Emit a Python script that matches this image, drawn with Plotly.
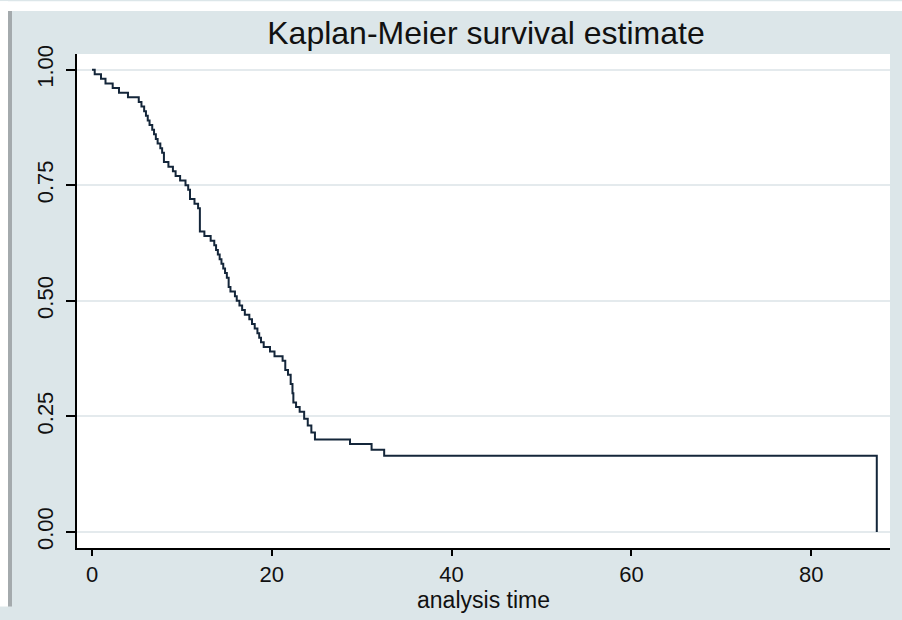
import plotly.graph_objects as go

# Kaplan-Meier step points (time, survival after step)
times = [0, 0.3, 1.0, 1.5, 2.3, 3.0, 4.0, 5.2, 5.5, 5.8, 6.0, 6.2, 6.4, 6.7, 6.9,
         7.1, 7.3, 7.6, 7.8, 8.0, 8.5, 9.0, 9.3, 9.8, 10.4, 10.7, 10.9, 11.4, 11.8,
         12.0, 12.5, 13.2, 13.6, 13.8, 14.0, 14.2, 14.4, 14.6, 14.8, 15.0, 15.2,
         15.4, 15.9, 16.1, 16.4, 16.7, 17.0, 17.5, 17.8, 18.1, 18.4, 18.6, 18.8,
         19.1, 19.8, 20.3, 21.2, 21.5, 21.8, 22.1, 22.3, 22.4, 22.7, 23.1, 23.6,
         24.0, 24.4, 24.8, 28.7, 31.1, 32.5, 87.3]
survival = [1.0, 0.99, 0.98, 0.97, 0.96, 0.95, 0.94, 0.93, 0.92, 0.91, 0.90, 0.89,
            0.88, 0.87, 0.86, 0.85, 0.84, 0.83, 0.82, 0.80, 0.79, 0.78, 0.77, 0.76,
            0.75, 0.74, 0.72, 0.71, 0.70, 0.65, 0.64, 0.63, 0.62, 0.61, 0.60, 0.59,
            0.58, 0.57, 0.56, 0.55, 0.53, 0.52, 0.51, 0.50, 0.49, 0.48, 0.47, 0.46,
            0.45, 0.44, 0.43, 0.42, 0.41, 0.40, 0.39, 0.38, 0.37, 0.35, 0.34, 0.32,
            0.30, 0.28, 0.27, 0.26, 0.245, 0.23, 0.215, 0.20, 0.19, 0.178, 0.165, 0.0]

x_ticks = [0, 20, 40, 60, 80]
y_ticks = [0, 0.25, 0.5, 0.75, 1.0]
y_tick_labels = ["0.00", "0.25", "0.50", "0.75", "1.00"]

title_text = "Kaplan-Meier survival estimate"
x_title = "analysis time"

BG = "#dce6e9"
FONT = "Liberation Sans, Arial, sans-serif"

fig = go.Figure()
fig.add_trace(go.Scatter(
    x=times, y=survival, mode="lines", line=dict(shape="hv", color="#14263a", width=2),
    hoverinfo="skip", showlegend=False))

W, H = 902, 620
L, R, T, B = 77, 12, 54, 60
pw, ph = W - L - R, H - T - B

def px_x(px):
    return (px - L) / pw

def px_y(py):
    return (H - B - py) / ph

shapes = [
    # white strip at the top
    dict(type="rect", xref="paper", yref="paper", x0=px_x(0), x1=px_x(W), y0=px_y(10), y1=px_y(0),
         fillcolor="white", line=dict(width=0), layer="below"),
    # white strip at the left
    dict(type="rect", xref="paper", yref="paper", x0=px_x(0), x1=px_x(8), y0=px_y(H), y1=px_y(0),
         fillcolor="white", line=dict(width=0), layer="below"),
    # left grey border
    dict(type="rect", xref="paper", yref="paper", x0=px_x(8), x1=px_x(12), y0=px_y(H), y1=px_y(10),
         fillcolor="#a4aaad", line=dict(width=0), layer="below"),
]

fig.update_layout(
    width=W, height=H,
    margin=dict(l=L, r=R, t=T, b=B),
    paper_bgcolor=BG, plot_bgcolor="white",
    title=dict(text=title_text, x=486 / W, xanchor="center",
               y=1 - 33 / H, yanchor="middle",
               font=dict(family=FONT, size=32, color="#111111")),
    shapes=shapes,
    xaxis=dict(range=[-1.67, 88.77], tickvals=x_ticks, ticks="outside", ticklen=6,
               tickwidth=1.5, tickcolor="black", showline=True, linecolor="black", linewidth=2,
               showgrid=False, zeroline=False,
               tickfont=dict(family=FONT, size=22, color="#111111"),
               title=dict(text=x_title, standoff=4,
                          font=dict(family=FONT, size=23, color="#111111"))),
    yaxis=dict(range=[-0.0348, 1.0338], tickvals=y_ticks, ticktext=y_tick_labels,
               tickangle=-90, ticks="outside", ticklen=9, tickwidth=1.5, tickcolor="black",
               showline=True, linecolor="black", linewidth=2,
               showgrid=True, gridcolor="#e4eaed", gridwidth=1.5, zeroline=False,
               ticklabelstandoff=4,
               tickfont=dict(family=FONT, size=22, color="#111111")),
)

fig.write_html("out.html", config={"displayModeBar": False},
               post_script="document.body.style.margin='0';document.body.style.overflow='hidden';")
